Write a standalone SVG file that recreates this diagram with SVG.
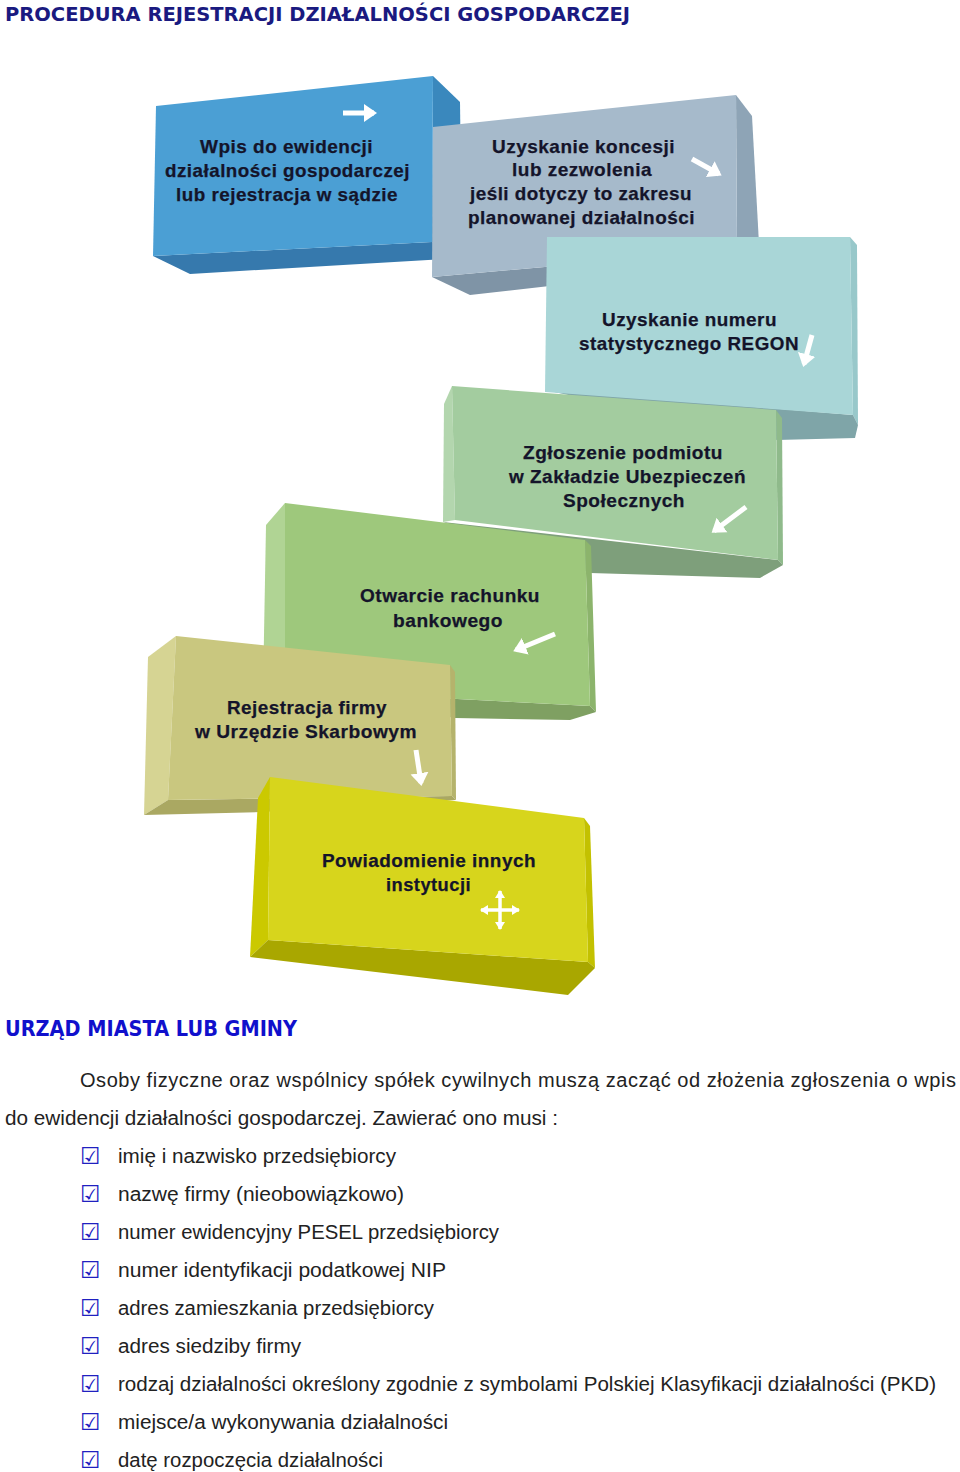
<svg xmlns="http://www.w3.org/2000/svg" width="960" height="1472" viewBox="0 0 960 1472">
<style>
.bt{font-family:"Liberation Sans",Arial,sans-serif;font-weight:bold;font-size:19px;fill:#14142a;stroke:#14142a;stroke-width:0.25;letter-spacing:0.5px}
.body{font-family:"Liberation Sans",Arial,sans-serif;font-size:20px;fill:#222}
.chk{font-family:"DejaVu Sans",sans-serif;font-size:23px;font-weight:bold;fill:#2020c0}
.arr{stroke:#ffffff;stroke-width:5;fill:none;stroke-linecap:butt}
.crs{stroke:#ffffff;stroke-width:3.5;fill:none}
</style>
<defs>
<marker id="ah" markerWidth="4" markerHeight="4" refX="2" refY="2" orient="auto" markerUnits="strokeWidth">
<path d="M0,0.2 L2.6,2 L0,3.8 z" fill="#ffffff"/>
</marker>
<marker id="ch" markerWidth="12" markerHeight="12" refX="7" refY="5" orient="auto" markerUnits="userSpaceOnUse">
<path d="M0,0 L8,5 L0,10 z" fill="#ffffff"/>
</marker>
</defs>
<rect width="960" height="1472" fill="#ffffff"/>
<text x="5" y="21" font-family="DejaVu Sans,Liberation Sans,sans-serif" font-weight="bold" font-size="20" fill="#1a1a80" textLength="625" lengthAdjust="spacingAndGlyphs">PROCEDURA REJESTRACJI DZIAŁALNOŚCI GOSPODARCZEJ</text>

<g id="box1">
<polygon points="433,76 460,102 462,258 432,242" fill="#3a88bd"/>
<polygon points="153,256 432,242 462,258 190,274" fill="#3679ad"/>
<polygon points="156,106 433,76 432,242 153,256" fill="#4b9fd4"/>
<text class="bt" x="200" y="153" textLength="173" lengthAdjust="spacingAndGlyphs">Wpis do ewidencji</text>
<text class="bt" x="165" y="177" textLength="245" lengthAdjust="spacingAndGlyphs">działalności gospodarczej</text>
<text class="bt" x="176" y="201" textLength="222" lengthAdjust="spacingAndGlyphs">lub rejestracja w sądzie</text>
</g>

<g id="box2">
<polygon points="736,95 752,116 760,262 737,250" fill="#8ea4b6"/>
<polygon points="432,277 737,250 760,262 470,295" fill="#7f94a6"/>
<polygon points="433,127 736,95 737,250 432,277" fill="#a6bacb"/>
<text class="bt" x="492" y="153" textLength="183" lengthAdjust="spacingAndGlyphs">Uzyskanie koncesji</text>
<text class="bt" x="512" y="176" textLength="140" lengthAdjust="spacingAndGlyphs">lub zezwolenia</text>
<text class="bt" x="470" y="200" textLength="222" lengthAdjust="spacingAndGlyphs">jeśli dotyczy to zakresu</text>
<text class="bt" x="468" y="224" textLength="227" lengthAdjust="spacingAndGlyphs">planowanej działalności</text>
</g>

<g id="box3">
<polygon points="850,237 857,245 858,425 853,415" fill="#98c8ca"/>
<polygon points="545,390 853,415 858,425 855,438 777,440" fill="#7fa5a8"/>
<polygon points="547,237 850,237 853,415 545,392" fill="#a9d6d7"/>
<text class="bt" x="602" y="326" textLength="175" lengthAdjust="spacingAndGlyphs">Uzyskanie numeru</text>
<text class="bt" x="579" y="350" textLength="220" lengthAdjust="spacingAndGlyphs">statystycznego REGON</text>
</g>

<g id="box4">
<polygon points="444,404 452,386 455,520 443,522" fill="#b3d6ae"/>
<polygon points="776,410 782,418 783,565 778,560" fill="#8fba8b"/>
<polygon points="443,522 778,560 783,565 760,578 590,573" fill="#7e9f7b"/>
<polygon points="452,386 776,410 778,560 455,520" fill="#a3cc9f"/>
<text class="bt" x="523" y="459" textLength="200" lengthAdjust="spacingAndGlyphs">Zgłoszenie podmiotu</text>
<text class="bt" x="509" y="483" textLength="237" lengthAdjust="spacingAndGlyphs">w Zakładzie Ubezpieczeń</text>
<text class="bt" x="563" y="507" textLength="122" lengthAdjust="spacingAndGlyphs">Społecznych</text>
</g>

<g id="box5">
<polygon points="266,525 285,503 285,690 263,690" fill="#b0d494"/>
<polygon points="585,540 591,546 596,712 590,706" fill="#8cb46c"/>
<polygon points="285,690 590,706 596,712 570,720 455,718" fill="#7fa062"/>
<polygon points="285,503 585,540 590,706 285,690" fill="#9ec87c"/>
<text class="bt" x="360" y="602" textLength="180" lengthAdjust="spacingAndGlyphs">Otwarcie rachunku</text>
<text class="bt" x="393" y="627" textLength="110" lengthAdjust="spacingAndGlyphs">bankowego</text>
</g>

<g id="box6">
<polygon points="148,657 176,636 168,800 144,815" fill="#d6d493"/>
<polygon points="450,665 455,672 456,800 452,796" fill="#b5b36c"/>
<polygon points="144,815 168,800 452,796 456,800 262,812" fill="#aaa862"/>
<polygon points="176,636 450,665 452,796 168,800" fill="#c9c77f"/>
<text class="bt" x="227" y="714" textLength="160" lengthAdjust="spacingAndGlyphs">Rejestracja firmy</text>
<text class="bt" x="195" y="738" textLength="222" lengthAdjust="spacingAndGlyphs">w Urzędzie Skarbowym</text>
</g>

<g id="box7">
<polygon points="258,798 270,777 268,940 250,957" fill="#cbc900"/>
<polygon points="584,818 590,826 595,968 588,962" fill="#c3c100"/>
<polygon points="250,957 268,940 588,962 595,968 568,995" fill="#a9a700"/>
<polygon points="270,777 584,818 588,962 268,940" fill="#d7d51c"/>
<text class="bt" x="322" y="867" textLength="214" lengthAdjust="spacingAndGlyphs">Powiadomienie innych</text>
<text class="bt" x="386" y="891" textLength="85" lengthAdjust="spacingAndGlyphs">instytucji</text>
</g>

<g id="connectors">
<line class="arr" x1="343" y1="113" x2="374" y2="113" marker-end="url(#ah)"/>
<line class="arr" x1="692" y1="159" x2="719" y2="174" marker-end="url(#ah)"/>
<line class="arr" x1="812" y1="335" x2="804" y2="364" marker-end="url(#ah)"/>
<line class="arr" x1="746" y1="507" x2="714" y2="531" marker-end="url(#ah)"/>
<line class="arr" x1="555" y1="634" x2="516" y2="650" marker-end="url(#ah)"/>
<line class="arr" x1="416" y1="750" x2="421" y2="783" marker-end="url(#ah)"/>
<line class="crs" x1="500" y1="910" x2="519" y2="910" marker-end="url(#ch)"/>
<line class="crs" x1="500" y1="910" x2="481" y2="910" marker-end="url(#ch)"/>
<line class="crs" x1="500" y1="910" x2="500" y2="891" marker-end="url(#ch)"/>
<line class="crs" x1="500" y1="910" x2="500" y2="929" marker-end="url(#ch)"/>
</g>

<text x="5" y="1036" font-family="DejaVu Sans,Liberation Sans,sans-serif" font-weight="bold" font-size="21" fill="#1010cc" textLength="292" lengthAdjust="spacingAndGlyphs">URZĄD MIASTA LUB GMINY</text>
<text class="body" x="80" y="1087" textLength="876" lengthAdjust="spacing">Osoby fizyczne oraz wspólnicy spółek cywilnych muszą zacząć od złożenia zgłoszenia o wpis</text>
<text class="body" x="5" y="1125" textLength="553" lengthAdjust="spacingAndGlyphs">do ewidencji działalności gospodarczej. Zawierać ono musi :</text>

<g id="list">
<text class="chk" x="80" y="1164">☑</text><text class="body" x="118" y="1163" textLength="278" lengthAdjust="spacingAndGlyphs">imię i nazwisko przedsiębiorcy</text>
<text class="chk" x="80" y="1202">☑</text><text class="body" x="118" y="1201" textLength="286" lengthAdjust="spacingAndGlyphs">nazwę firmy (nieobowiązkowo)</text>
<text class="chk" x="80" y="1240">☑</text><text class="body" x="118" y="1239" textLength="381" lengthAdjust="spacingAndGlyphs">numer ewidencyjny PESEL przedsiębiorcy</text>
<text class="chk" x="80" y="1278">☑</text><text class="body" x="118" y="1277" textLength="328" lengthAdjust="spacingAndGlyphs">numer identyfikacji podatkowej NIP</text>
<text class="chk" x="80" y="1316">☑</text><text class="body" x="118" y="1315" textLength="316" lengthAdjust="spacingAndGlyphs">adres zamieszkania przedsiębiorcy</text>
<text class="chk" x="80" y="1354">☑</text><text class="body" x="118" y="1353" textLength="183" lengthAdjust="spacingAndGlyphs">adres siedziby firmy</text>
<text class="chk" x="80" y="1392">☑</text><text class="body" x="118" y="1391" textLength="818" lengthAdjust="spacingAndGlyphs">rodzaj działalności określony zgodnie z symbolami Polskiej Klasyfikacji działalności (PKD)</text>
<text class="chk" x="80" y="1430">☑</text><text class="body" x="118" y="1429" textLength="330" lengthAdjust="spacingAndGlyphs">miejsce/a wykonywania działalności</text>
<text class="chk" x="80" y="1468">☑</text><text class="body" x="118" y="1467" textLength="265" lengthAdjust="spacingAndGlyphs">datę rozpoczęcia działalności</text>
</g>
</svg>
